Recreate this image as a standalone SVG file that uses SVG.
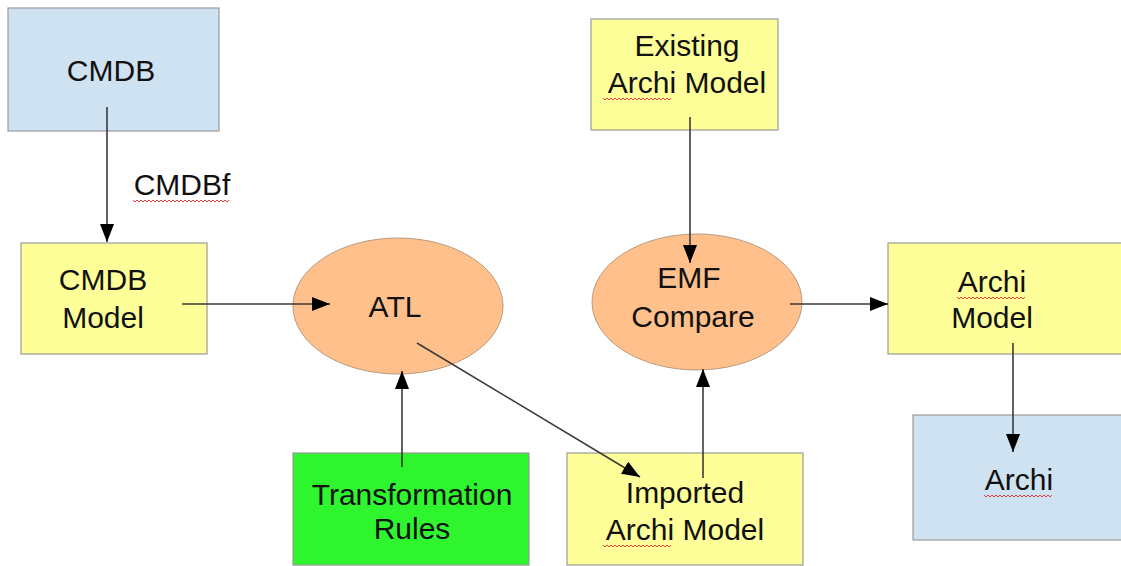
<svg xmlns="http://www.w3.org/2000/svg" width="1121" height="566" viewBox="0 0 1121 566">
  <style>
    .box { stroke: #9a9a9a; stroke-width: 1.2; }
    .blue { fill: #cfe2f2; }
    .yellow { fill: #ffff99; }
    .green { fill: #2ef52e; }
    .orange { fill: #ffc08c; stroke: #b89a80; stroke-width: 1; }
    .t { font-family: "Liberation Sans", Arial, sans-serif; font-size: 30px; fill: #111111; text-anchor: middle; }
    .conn { stroke: #3a3a3a; stroke-width: 1.6; fill: none; }
    .squig { stroke: #e04040; stroke-width: 1; fill: none; }
  </style>
  <defs>
    <marker id="arr" markerUnits="userSpaceOnUse" markerWidth="20" markerHeight="16" refX="18" refY="7" orient="auto">
      <path d="M0,0 L18,7 L0,14 z" fill="#000"/>
    </marker>
  </defs>
  <rect width="1121" height="566" fill="#ffffff"/>

  <g id="cmdb">
    <rect class="box blue" x="8" y="8" width="211" height="123"/>
    <text class="t" x="111" y="81">CMDB</text>
  </g>

  <g id="cmdbf-label">
    <text class="t" x="182" y="195">CMDBf</text>
    <path class="squig" d="M133,200 l2,2 l2,-2 l2,2 l2,-2 l2,2 l2,-2 l2,2 l2,-2 l2,2 l2,-2 l2,2 l2,-2 l2,2 l2,-2 l2,2 l2,-2 l2,2 l2,-2 l2,2 l2,-2 l2,2 l2,-2 l2,2 l2,-2 l2,2 l2,-2 l2,2 l2,-2 l2,2 l2,-2 l2,2 l2,-2 l2,2 l2,-2 l2,2 l2,-2 l2,2 l2,-2 l2,2 l2,-2 l2,2 l2,-2 l2,2 l2,-2 l2,2 l2,-2 l2,2 l2,-2"/>
  </g>

  <g id="cmdb-model">
    <rect class="box yellow" x="21" y="243" width="186" height="111"/>
    <text class="t" x="103" y="290">CMDB</text>
    <text class="t" x="103" y="328">Model</text>
  </g>

  <g id="atl">
    <ellipse class="orange" cx="398" cy="306" rx="105" ry="68"/>
    <text class="t" x="395" y="317">ATL</text>
  </g>

  <g id="transformation-rules">
    <rect class="box green" x="293" y="453" width="236" height="112"/>
    <text class="t" x="412" y="505">Transformation</text>
    <text class="t" x="412" y="539">Rules</text>
  </g>

  <g id="existing-archi-model">
    <rect class="box yellow" x="591" y="19" width="187" height="111"/>
    <text class="t" x="687" y="56">Existing</text>
    <text class="t" x="687" y="93">Archi Model</text>
    <path class="squig" d="M603,98 l2,2 l2,-2 l2,2 l2,-2 l2,2 l2,-2 l2,2 l2,-2 l2,2 l2,-2 l2,2 l2,-2 l2,2 l2,-2 l2,2 l2,-2 l2,2 l2,-2 l2,2 l2,-2 l2,2 l2,-2 l2,2 l2,-2 l2,2 l2,-2 l2,2 l2,-2 l2,2 l2,-2 l2,2 l2,-2 l2,2 l2,-2"/>
  </g>

  <g id="emf-compare">
    <ellipse class="orange" cx="697" cy="302" rx="105" ry="68"/>
    <text class="t" x="689" y="288">EMF</text>
    <text class="t" x="693" y="327">Compare</text>
  </g>

  <g id="imported-archi-model">
    <rect class="box yellow" x="567" y="453" width="236" height="112"/>
    <text class="t" x="685" y="503">Imported</text>
    <text class="t" x="685" y="540">Archi Model</text>
    <path class="squig" d="M603,545 l2,2 l2,-2 l2,2 l2,-2 l2,2 l2,-2 l2,2 l2,-2 l2,2 l2,-2 l2,2 l2,-2 l2,2 l2,-2 l2,2 l2,-2 l2,2 l2,-2 l2,2 l2,-2 l2,2 l2,-2 l2,2 l2,-2 l2,2 l2,-2 l2,2 l2,-2 l2,2 l2,-2 l2,2 l2,-2 l2,2 l2,-2"/>
  </g>

  <g id="archi-model">
    <rect class="box yellow" x="888" y="243" width="240" height="111"/>
    <text class="t" x="992" y="292">Archi</text>
    <text class="t" x="992" y="328">Model</text>
    <path class="squig" d="M957,297 l2,2 l2,-2 l2,2 l2,-2 l2,2 l2,-2 l2,2 l2,-2 l2,2 l2,-2 l2,2 l2,-2 l2,2 l2,-2 l2,2 l2,-2 l2,2 l2,-2 l2,2 l2,-2 l2,2 l2,-2 l2,2 l2,-2 l2,2 l2,-2 l2,2 l2,-2 l2,2 l2,-2 l2,2 l2,-2 l2,2 l2,-2"/>
  </g>

  <g id="archi">
    <rect class="box blue" x="913" y="415" width="215" height="125"/>
    <text class="t" x="1019" y="490">Archi</text>
    <path class="squig" d="M984,495 l2,2 l2,-2 l2,2 l2,-2 l2,2 l2,-2 l2,2 l2,-2 l2,2 l2,-2 l2,2 l2,-2 l2,2 l2,-2 l2,2 l2,-2 l2,2 l2,-2 l2,2 l2,-2 l2,2 l2,-2 l2,2 l2,-2 l2,2 l2,-2 l2,2 l2,-2 l2,2 l2,-2 l2,2 l2,-2 l2,2 l2,-2"/>
  </g>

  <g id="connectors">
    <path class="conn" d="M107,107 L107,242" marker-end="url(#arr)"/>
    <path class="conn" d="M182,304 L330,304" marker-end="url(#arr)"/>
    <path class="conn" d="M402,467 L402,371" marker-end="url(#arr)"/>
    <path class="conn" d="M417,343 L640,477" marker-end="url(#arr)"/>
    <path class="conn" d="M690,117 L690,263" marker-end="url(#arr)"/>
    <path class="conn" d="M703,478 L703,369" marker-end="url(#arr)"/>
    <path class="conn" d="M790,304 L888,304" marker-end="url(#arr)"/>
    <path class="conn" d="M1013,343 L1013,452" marker-end="url(#arr)"/>
  </g>
</svg>
